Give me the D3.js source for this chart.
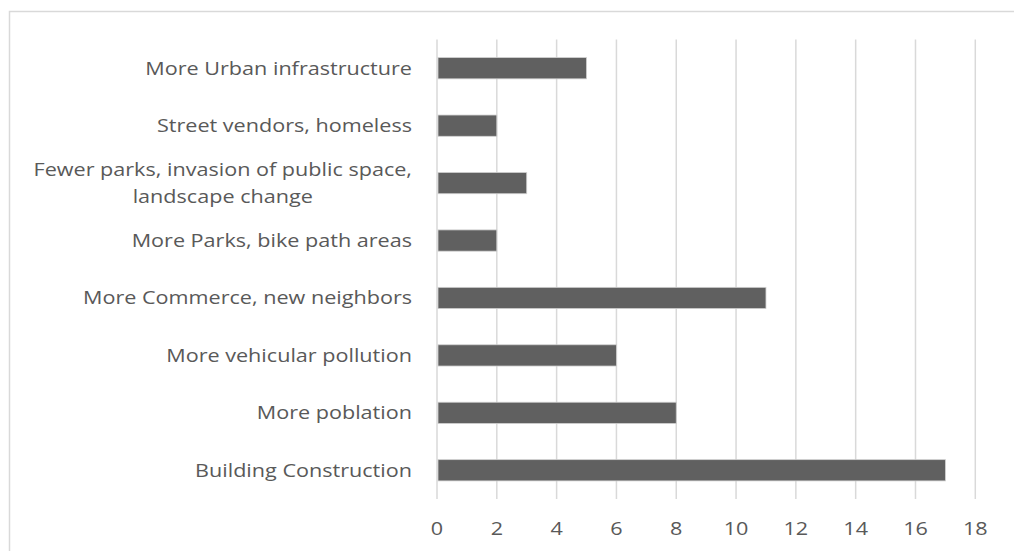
<!DOCTYPE html>
<html><head><meta charset="utf-8">
<script src="https://cdn.jsdelivr.net/npm/d3@7"></script>
<style>
html,body{margin:0;padding:0;background:#fff;}
svg{display:block;}
</style></head>
<body>
<svg id="chart" width="1014" height="551"></svg>
<script>
const categories = [
  "More Urban infrastructure",
  "Street vendors, homeless",
  "Fewer parks, invasion of public space, landscape change",
  "More Parks, bike path areas",
  "More Commerce, new neighbors",
  "More vehicular pollution",
  "More poblation",
  "Building Construction"
];
const labelLines = [
  ["More Urban infrastructure"],
  ["Street vendors, homeless"],
  ["Fewer parks, invasion of public space,", "landscape change"],
  ["More Parks, bike path areas"],
  ["More Commerce, new neighbors"],
  ["More vehicular pollution"],
  ["More poblation"],
  ["Building Construction"]
];
const values = [5, 2, 3, 2, 11, 6, 8, 17];
const tickValues = [0, 2, 4, 6, 8, 10, 12, 14, 16, 18];

const svg = d3.select("#chart");
const font = "'Open Sans', 'DejaVu Sans', sans-serif";
const textColor = "#595959";
const sx = 1.2; // horizontal stretch of text as in the reference

// outer border
svg.append("rect").attr("x", 9.5).attr("y", 11.5).attr("width", 1100).attr("height", 700)
  .attr("fill", "#fff").attr("stroke", "#d9d9d9").attr("stroke-width", 1.5);

const x = d3.scaleLinear().domain([0, 18]).range([437, 975.3]);
const y = d3.scaleBand().domain(categories).range([39.5, 499]).paddingInner(0.63).paddingOuter(0.315);

// gridlines
svg.append("g").selectAll("line").data(tickValues).join("line")
  .attr("x1", d => x(d)).attr("x2", d => x(d))
  .attr("y1", 39.5).attr("y2", 499)
  .attr("stroke", "#d9d9d9").attr("stroke-width", 1.5);

// bars
svg.append("g").selectAll("rect").data(values).join("rect")
  .attr("x", x(0) + 1)
  .attr("y", (d, i) => y(categories[i]))
  .attr("width", d => x(d) - x(0) - 1)
  .attr("height", y.bandwidth())
  .attr("fill", "#606060")
  .attr("stroke", "#d0d0d0").attr("stroke-width", 0.8);

// category labels
const lg = svg.append("g");
const rightEdge = 412;
categories.forEach((c, i) => {
  const lines = labelLines[i];
  const cy = y(c) + y.bandwidth() / 2;
  const lh = 27;
  const t = lg.append("text")
    .attr("font-family", font).attr("font-size", 18).attr("fill", textColor);
  if (lines.length === 1) {
    t.attr("transform", `translate(${rightEdge},${cy}) scale(${sx},1)`)
      .attr("dy", "0.35em").attr("text-anchor", "end").text(lines[0]);
  } else {
    const tmp = lg.append("text").attr("font-family", font).attr("font-size", 18).text(lines[0]);
    const w = tmp.node().getComputedTextLength();
    tmp.remove();
    t.attr("transform", `translate(${rightEdge},${cy}) scale(${sx},1)`);
    lines.forEach((ln, j) => {
      t.append("tspan").attr("x", -w / 2).attr("text-anchor", "middle")
        .attr("y", (j - (lines.length - 1) / 2) * lh).attr("dy", "0.35em").text(ln);
    });
  }
});

// x axis tick labels
svg.append("g").selectAll("text").data(tickValues).join("text")
  .attr("transform", d => `translate(${x(d)},529) scale(${sx},1)`)
  .attr("dy", "0.35em")
  .attr("text-anchor", "middle")
  .attr("font-family", font).attr("font-size", 18).attr("fill", textColor)
  .text(d => d);
</script>
</body></html>
